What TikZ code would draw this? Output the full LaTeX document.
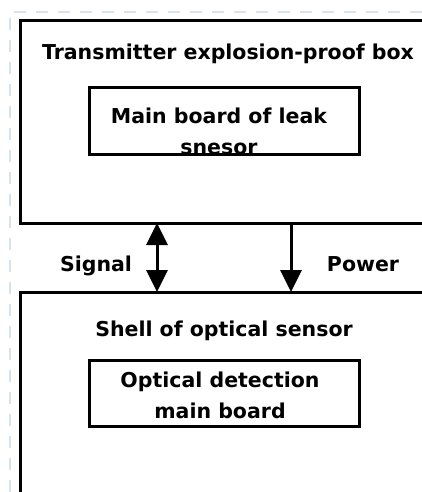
\documentclass[tikz,border=0pt]{standalone}
\usepackage{fontspec}
\setmainfont{DejaVu Sans}
\usetikzlibrary{arrows.meta}
\definecolor{faint}{HTML}{D8E2EA}
\tikzset{
  frame/.style={line width=3pt},
  innerbox/.style={draw, line width=3pt, minimum width=270pt, minimum height=66pt, inner sep=0pt},
  txt/.style={font=\fontsize{20.5}{31}\selectfont\bfseries, inner sep=0pt, anchor=base},
  blk/.style={font=\fontsize{20.5}{31}\selectfont\bfseries, inner sep=0pt, align=center},
  conn/.style={line width=3pt, -{Triangle[width=21pt,length=22pt]}},
  bconn/.style={line width=3pt, {Triangle[width=21pt,length=22pt]}-{Triangle[width=21pt,length=22pt]}},
  guide/.style={faint, line width=1.5pt, dash pattern=on 12pt off 10pt}
}
\begin{document}
\begin{tikzpicture}[x=1pt,y=-1pt]
\useasboundingbox (0,0) rectangle (422,492);
\fill[white] (0,0) rectangle (422,492);
% faint outer guide
\draw[guide] (422,12) -- (10,12) -- (10,492);
% top enclosure
\draw[frame] (423,21) -- (20,21) -- (20,223) -- (423,223);
\node[txt] (t1) at (228,60) {Transmitter explosion-proof box};
\node[innerbox] (mb) at (224,121) {};
\node[blk] (mbt) at (219,131) {Main board of leak\\snesor};
% bottom enclosure
\draw[frame] (423,292) -- (20,292) -- (20,493);
\node[txt] (t2) at (224,336) {Shell of optical sensor};
\node[innerbox] (ob) at (224,393) {};
\node[blk] (obt) at (220,395) {Optical detection\\main board};
% connectors
\coordinate (s1) at (157,223);
\coordinate (s2) at (157,292);
\coordinate (p1) at (291,223);
\coordinate (p2) at (291,292);
\draw[bconn] (s1) -- (s2);
\draw[conn] (p1) -- (p2);
\node[txt] (sig) at (96,271) {Signal};
\node[txt] (pow) at (363,271) {Power};
\end{tikzpicture}
\end{document}
